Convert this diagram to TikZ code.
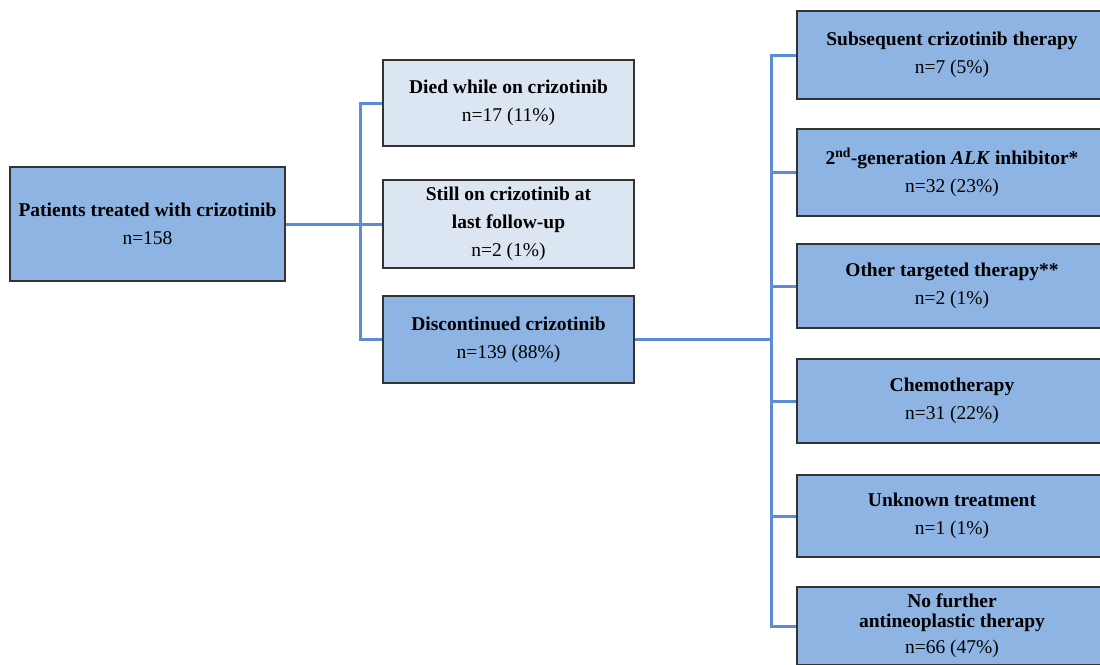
\documentclass[tikz,border=0pt]{standalone}
\usepackage{fontspec}
\setmainfont{Liberation Serif}
\usepackage{tikz}
\usetikzlibrary{positioning,calc}

\definecolor{boxdark}{HTML}{8EB4E3}
\definecolor{boxlight}{HTML}{DCE6F2}
\definecolor{linkblue}{HTML}{5A8DD6}
\definecolor{edgegray}{HTML}{333333}

\begin{document}
\begin{tikzpicture}[x=1pt, y=-1pt,
    box/.style={draw=edgegray, line width=1.2pt, align=center, inner sep=2pt,
        font=\fontsize{19.5}{28}\selectfont},
    darkbox/.style={box, fill=boxdark},
    lightbox/.style={box, fill=boxlight},
    link/.style={draw=linkblue, line width=3pt}]
    \useasboundingbox (0, 0) rectangle (1100, 664);

    % Root
    \node[darkbox, minimum width=275pt, minimum height=114pt] (root) at (147.5, 224)
        {\textbf{Patients treated with crizotinib}\\n=158};

    % First split
    \node[lightbox, minimum width=251pt, minimum height=86pt] (died) at (508.5, 103)
        {\textbf{Died while on crizotinib}\\n=17 (11\%)};
    \node[lightbox, minimum width=251pt, minimum height=88pt] (still) at (508.5, 224)
        {\textbf{Still on crizotinib at}\\\textbf{last follow-up}\\n=2 (1\%)};
    \node[darkbox, minimum width=251pt, minimum height=87pt] (disc) at (508.5, 339.5)
        {\textbf{Discontinued crizotinib}\\n=139 (88\%)};

    % Subsequent treatment (boxes run past the right edge)
    \node[darkbox, minimum width=310pt, minimum height=88pt] (subs) at (952, 55)
        {\textbf{Subsequent crizotinib therapy}\\n=7 (5\%)};
    \node[darkbox, minimum width=310pt, minimum height=87pt] (alk) at (952, 172.5)
        {\textbf{2\textsuperscript{nd}-generation \textit{ALK} inhibitor*}\\n=32 (23\%)};
    \node[darkbox, minimum width=310pt, minimum height=84pt] (other) at (952, 286)
        {\textbf{Other targeted therapy**}\\n=2 (1\%)};
    \node[darkbox, minimum width=310pt, minimum height=84pt] (chemo) at (952, 401)
        {\textbf{Chemotherapy}\\n=31 (22\%)};
    \node[darkbox, minimum width=310pt, minimum height=82pt] (unknown) at (952, 516)
        {\textbf{Unknown treatment}\\n=1 (1\%)};
    \node[darkbox, minimum width=310pt, minimum height=78pt] (nofurther) at (952, 626)
        {\textbf{No further}\\[-8pt]\textbf{antineoplastic therapy}\\[-2pt]n=66 (47\%)};

    % Connectors
    \coordinate (split1) at (360, 224);
    \coordinate (split2) at (771, 339.5);
    \draw[link] (root.east) -- (still.west);
    \draw[link] (died.west) -| (split1) |- (disc.west);
    \draw[link] (disc.east) -- (split2);
    \draw[link] (subs.west) -| (split2) |- (nofurther.west);
    \foreach \n in {alk, other, chemo, unknown} {
        \draw[link] (\n.west) -- (\n.west -| split2);
    }
\end{tikzpicture}
\end{document}
